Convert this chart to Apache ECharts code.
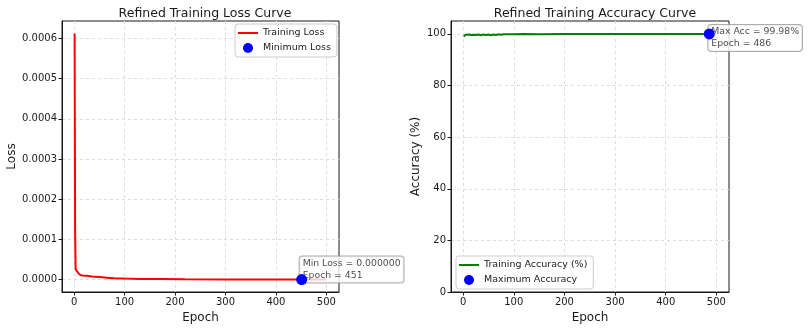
<!DOCTYPE html>
<html>
<head>
<meta charset="utf-8">
<script src="https://cdn.jsdelivr.net/npm/echarts@6/dist/echarts.min.js"></script>
<style>
  html, body { margin: 0; padding: 0; background: #fff; }
</style>
</head>
<body>
<div id="chart" style="width: 808px; height: 330px;"></div>
<script>
// epoch / value pairs
const lossPoints = [
  [1, 0.000612], [2, 0.00012], [3, 0.000026], [5, 0.000022], [8, 0.000017],
  [12, 0.000012], [16, 0.0000105], [25, 0.0000095], [35, 0.000008], [50, 0.0000065],
  [65, 0.000005], [80, 0.0000035], [100, 0.0000028], [130, 0.000002], [170, 0.0000015],
  [220, 0.000001], [300, 0.0000007], [400, 0.0000004], [451, 0.0000002], [500, 0.0000003]
];
const accPoints = [
  [1, 99.0], [3, 99.5], [5, 99.7], [8, 99.6], [12, 99.75], [16, 99.55], [20, 99.7],
  [25, 99.6], [30, 99.8], [35, 99.5], [40, 99.75], [45, 99.6], [50, 99.8], [55, 99.5],
  [60, 99.75], [65, 99.6], [70, 99.85], [75, 99.7], [80, 99.9], [90, 99.85], [100, 99.9],
  [120, 99.92], [150, 99.9], [200, 99.94], [250, 99.93], [300, 99.95], [350, 99.95],
  [400, 99.96], [450, 99.96], [486, 99.98], [500, 99.96]
];
const minLoss = [451, 0.0000002];
const maxAcc = [486, 99.98];

const epochTicks = [0, 100, 200, 300, 400, 500];
const lossTicks = [0, 0.0001, 0.0002, 0.0003, 0.0004, 0.0005, 0.0006];
const accTicks = [0, 20, 40, 60, 80, 100];

const font = 'DejaVu Sans';
const ink = '#1a1a1a';
const lineIcon = 'path://M0,0 L20,0 L20,2 L0,2 Z';
const myChart = echarts.init(document.getElementById('chart'));

function xAxisOpt(gridIndex) {
  return {
    type: 'value',
    gridIndex: gridIndex,
    min: -24,
    max: 525,
    name: 'Epoch',
    nameLocation: 'middle',
    nameGap: 20,
    nameTextStyle: { fontFamily: font, fontSize: 12, color: ink },
    axisLine: { onZero: false, lineStyle: { color: ink } },
    axisTick: { length: 3.5, lineStyle: { color: ink }, customValues: epochTicks },
    axisLabel: { fontFamily: font, fontSize: 10, color: ink, margin: 5, customValues: epochTicks },
    splitLine: { show: true, lineStyle: { color: '#ddd', type: [3, 3] } }
  };
}

function legendOpt(names, left, top) {
  return {
    data: [
      { name: names[0], icon: lineIcon },
      { name: names[1], icon: 'circle' }
    ],
    orient: 'vertical', left: left, top: top,
    padding: [4, 6, 4, 3], itemGap: 5, itemWidth: 20, itemHeight: 10,
    backgroundColor: '#fff', borderColor: '#ccc', borderWidth: 1, borderRadius: 3,
    textStyle: { fontFamily: font, fontSize: 9.5, color: ink }
  };
}

function noteLabel(text, pos) {
  return {
    show: true, position: pos, formatter: text,
    fontFamily: font, fontSize: 9.3, color: ink, lineHeight: 12,
    backgroundColor: '#fff', borderColor: '#999', borderWidth: 1, borderRadius: 3,
    padding: [1, 3]
  };
}

const option = {
  backgroundColor: '#fff',
  animation: false,
  title: [
    { text: 'Refined Training Loss Curve', left: 200, top: 2, textAlign: 'center',
      textStyle: { fontFamily: font, fontSize: 12.5, fontWeight: 'normal', color: ink } },
    { text: 'Refined Training Accuracy Curve', left: 590, top: 2, textAlign: 'center',
      textStyle: { fontFamily: font, fontSize: 12.5, fontWeight: 'normal', color: ink } }
  ],
  legend: [
    legendOpt(['Training Loss', 'Minimum Loss'], 235, 24),
    legendOpt(['Training Accuracy (%)', 'Maximum Accuracy'], 456, 256)
  ],
  grid: [
    { left: 62, right: 469, top: 21, bottom: 38, show: true, borderColor: ink, borderWidth: 1 },
    { left: 451, right: 79, top: 21, bottom: 38, show: true, borderColor: ink, borderWidth: 1 }
  ],
  xAxis: [xAxisOpt(0), xAxisOpt(1)],
  yAxis: [
    {
      type: 'value', gridIndex: 0,
      min: -0.0000306, max: 0.000643,
      name: 'Loss', nameLocation: 'middle', nameGap: 41,
      nameTextStyle: { fontFamily: font, fontSize: 12, color: ink },
      axisLine: { show: true, onZero: false, lineStyle: { color: ink } },
      axisTick: { show: true, length: 3.5, lineStyle: { color: ink }, customValues: lossTicks },
      axisLabel: { fontFamily: font, fontSize: 10, color: ink, margin: 5, customValues: lossTicks,
        formatter: v => v.toFixed(4) },
      splitLine: { show: true, lineStyle: { color: '#ddd', type: [3, 3] } }
    },
    {
      type: 'value', gridIndex: 1,
      min: 0, max: 105,
      name: 'Accuracy (%)', nameLocation: 'middle', nameGap: 29,
      nameTextStyle: { fontFamily: font, fontSize: 12, color: ink },
      axisLine: { show: true, onZero: false, lineStyle: { color: ink } },
      axisTick: { show: true, length: 3.5, lineStyle: { color: ink }, customValues: accTicks },
      axisLabel: { fontFamily: font, fontSize: 10, color: ink, margin: 5, customValues: accTicks },
      splitLine: { show: true, lineStyle: { color: '#ddd', type: [3, 3] } }
    }
  ],
  series: [
    {
      name: 'Training Loss', type: 'line', xAxisIndex: 0, yAxisIndex: 0,
      data: lossPoints, symbol: 'none', color: '#ff0000',
      lineStyle: { width: 2 }, z: 3
    },
    {
      // annotation box, drawn under the dot
      type: 'scatter', xAxisIndex: 0, yAxisIndex: 0, data: [minLoss],
      symbolSize: 10, itemStyle: { color: 'transparent' }, z: 4, silent: true,
      label: noteLabel('Min Loss = 0.000000\nEpoch = 451', [3, -18])
    },
    {
      name: 'Minimum Loss', type: 'scatter', xAxisIndex: 0, yAxisIndex: 0,
      data: [minLoss], symbolSize: 11, itemStyle: { color: '#0000ff', opacity: 1 }, z: 5
    },
    {
      name: 'Training Accuracy (%)', type: 'line', xAxisIndex: 1, yAxisIndex: 1,
      data: accPoints, symbol: 'none', color: '#008000',
      lineStyle: { width: 2 }, z: 3
    },
    {
      type: 'scatter', xAxisIndex: 1, yAxisIndex: 1, data: [maxAcc],
      symbolSize: 10, itemStyle: { color: 'transparent' }, z: 4, silent: true,
      label: noteLabel('Max Acc = 99.98%\nEpoch = 486', [4, -4])
    },
    {
      name: 'Maximum Accuracy', type: 'scatter', xAxisIndex: 1, yAxisIndex: 1,
      data: [maxAcc], symbolSize: 11, itemStyle: { color: '#0000ff', opacity: 1 }, z: 5
    }
  ]
};

myChart.setOption(option);
</script>
</body>
</html>
